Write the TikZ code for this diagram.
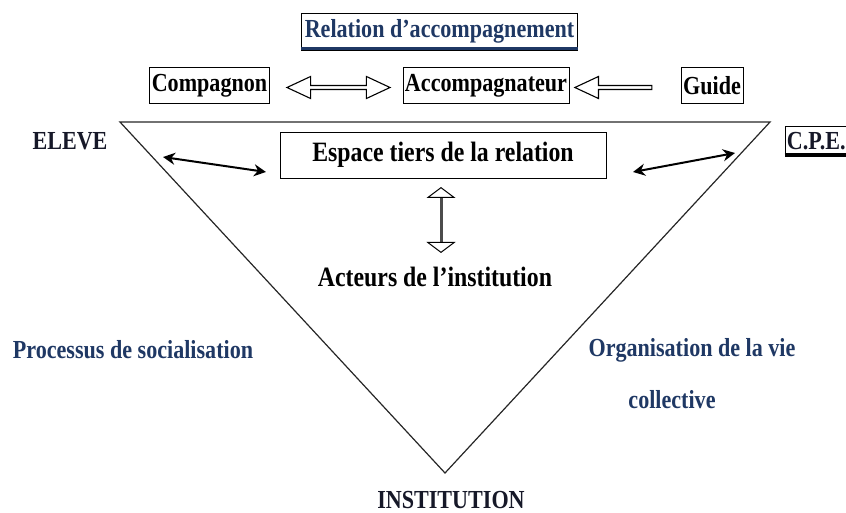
\documentclass[tikz,border=0pt]{standalone}
\usepackage{fontspec}
\setmainfont{Liberation Serif}
\newfontfamily\cond[FakeStretch=0.85]{Liberation Serif}
\usetikzlibrary{arrows.meta,shapes.arrows,calc,positioning}
\definecolor{navy}{RGB}{31,56,100}
\definecolor{ink}{RGB}{22,24,40}

\begin{document}
\begin{tikzpicture}[x=1pt,y=-1pt,
  lbl/.style={font=\cond\bfseries\fontsize{26}{30}\selectfont,inner sep=0pt},
  big/.style={font=\cond\bfseries\fontsize{28}{32}\selectfont,inner sep=0pt},
  role/.style={lbl,draw,line width=0.7pt,minimum height=36,inner xsep=2pt},
  blk/.style={draw,line width=1.1pt,fill=white,inner sep=0pt},
  dart/.style={{Stealth[length=12pt,width=12pt]}-{Stealth[length=12pt,width=12pt]},line width=2pt},
  varr/.style={{Triangle[open,width=29pt,length=11pt,line width=1pt,color=black]}-{Triangle[open,width=29pt,length=11pt,line width=1pt,color=black]},gray!60!black,line width=3pt}
]
\useasboundingbox (0,0) rectangle (846,513);

% triangle
\coordinate (tl) at (120,122);
\coordinate (tr) at (770,122);
\coordinate (bt) at (445,473);
\draw[line width=1.2pt,black!85] (tl) -- (tr) -- (bt) -- cycle;

% top row
\node[lbl,draw,line width=0.7pt,minimum height=37,inner xsep=3pt,text=navy] (rel) at (439.5,31.5) {Relation d’accompagnement};
\draw[navy,line width=3.5pt] ($(rel.south west)+(0,-2)$) -- ($(rel.south east)+(0,-2)$);
\node[role] (comp) at (209.5,85.5) {Compagnon};
\node[role] (acc)  at (486,85.5)   {Accompagnateur};
\node[role] (guide) at (712,85.5)  {Guide};
\node[blk,double arrow,minimum height=103,minimum width=22,double arrow head extend=2.5,
      double arrow tip angle=50] (ca) at (338.5,87.5) {};
\node[blk,single arrow,minimum height=77,minimum width=22,single arrow head extend=2.5,
      single arrow tip angle=50,shape border rotate=180] (ga) at (615.5,87.5) {};

% corners
\node[lbl,text=ink] (eleve) at (70,141) {ELEVE};
\node[lbl,draw,line width=0.7pt,minimum height=30,inner xsep=2pt,anchor=east,text=ink] (cpe) at (848,141) {C.P.E.};
\draw[line width=3.5pt] ($(cpe.south west)+(0,-2)$) -- ($(cpe.south east)+(0,-2)$);
\node[lbl,text=ink] (inst) at (451,500) {INSTITUTION};

% inside
\node[big,draw,line width=0.7pt,minimum width=326,minimum height=46] (esp) at (443,155) {Espace tiers de la relation};
\node[big] (act) at (435,277) {Acteurs de l’institution};
\coordinate (la) at (163,157);
\coordinate (lb) at (266,172);
\coordinate (ra) at (633,172);
\coordinate (rb) at (735,153);
\draw[dart] (la) -- (lb);
\draw[dart] (ra) -- (rb);
\coordinate (vt) at (441,187);
\coordinate (vb) at (441,253);
\draw[varr] (vt) -- (vb);

% sides
\node[lbl,text=navy] (proc) at (133,350) {Processus de socialisation};
\node[lbl,text=navy] (org)  at (692,350) {Organisation de la vie};
\node[lbl,text=navy] (coll) at (672,400) {collective};
\end{tikzpicture}
\end{document}
